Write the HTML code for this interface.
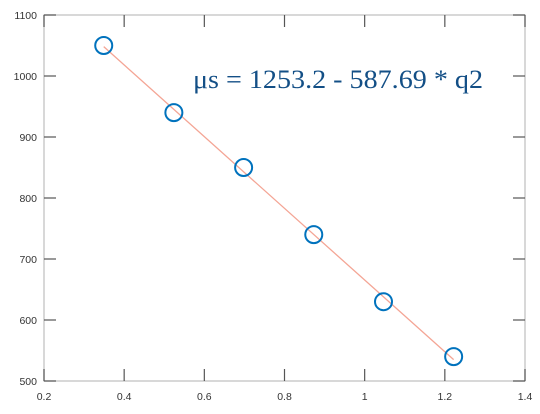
<!DOCTYPE html>
<html><head><meta charset="utf-8"><style>
body{margin:0;background:#fff;width:540px;height:414px;overflow:hidden}
svg{display:block;font-family:"Liberation Sans",sans-serif}
</style></head><body>
<svg id="chart" width="540" height="414"></svg>
<script>
const xTicks=[0.2,0.4,0.6,0.8,1,1.2,1.4];
const xTickLabels=["0.2","0.4","0.6","0.8","1","1.2","1.4"];
const yTicks=[500,600,700,800,900,1000,1100];
const yTickLabels=["500","600","700","800","900","1000","1100"];
const q2Values=[0.349,0.524,0.698,0.873,1.047,1.222];
const muValues=[1050,940,850,740,630,540];
const fitIntercept=1253.2;
const fitSlope=-587.69;
const L=44,R=525,T=15,B=381;
const sx=v=>L+(v-0.2)/1.2*(R-L);
const sy=v=>B-(v-500)/600*(B-T);
const svg=document.getElementById('chart');
const NS='http://www.w3.org/2000/svg';
function mk(tag,attrs,parent){const e=document.createElementNS(NS,tag);for(const k in attrs)e.setAttribute(k,attrs[k]);(parent||svg).appendChild(e);return e;}
const frame=mk('rect',{x:L,y:T,width:R-L,height:B-T,fill:'none',stroke:'#c4c4c4','stroke-width':1.3});


xTicks.forEach((v,i)=>{
  const x=sx(v);
  const t1=mk('line',{x1:x,y1:B,x2:x,y2:B-12,stroke:'#555','stroke-width':1.2});
  
  
  const t2=mk('line',{x1:x,y1:T,x2:x,y2:T+12,stroke:'#555','stroke-width':1.2});
  
  
  const lb=mk('text',{x:x,y:400,'text-anchor':'middle','font-size':10.5,fill:'#333'});
  lb.textContent=xTickLabels[i];
  
  
});
yTicks.forEach((v,i)=>{
  const y=sy(v);
  const t1=mk('line',{x1:L,y1:y,x2:L+12,y2:y,stroke:'#555','stroke-width':1.2});
  
  
  const t2=mk('line',{x1:R,y1:y,x2:R-12,y2:y,stroke:'#555','stroke-width':1.2});
  
  
  const lb=mk('text',{x:37,y:y+4,'text-anchor':'end','font-size':10.5,fill:'#333'});
  lb.textContent=yTickLabels[i];
  
  
});
const x0=q2Values[0],x1=q2Values[q2Values.length-1];
const fit=mk('line',{x1:sx(x0),y1:sy(fitIntercept+fitSlope*x0),x2:sx(x1),y2:sy(fitIntercept+fitSlope*x1),stroke:'#f4a595','stroke-width':1.3});


q2Values.forEach((v,i)=>{
  const c=mk('circle',{cx:sx(v),cy:sy(muValues[i]),r:8.5,fill:'none',stroke:'#0072bd','stroke-width':2});
  
  
});
const eq=mk('text',{x:193,y:88,'font-size':26,fill:'#134f86','font-family':'"Liberation Serif",serif',textLength:290,lengthAdjust:'spacingAndGlyphs'});
eq.textContent='μs = 1253.2 - 587.69 * q2';


</script>
</body></html>
